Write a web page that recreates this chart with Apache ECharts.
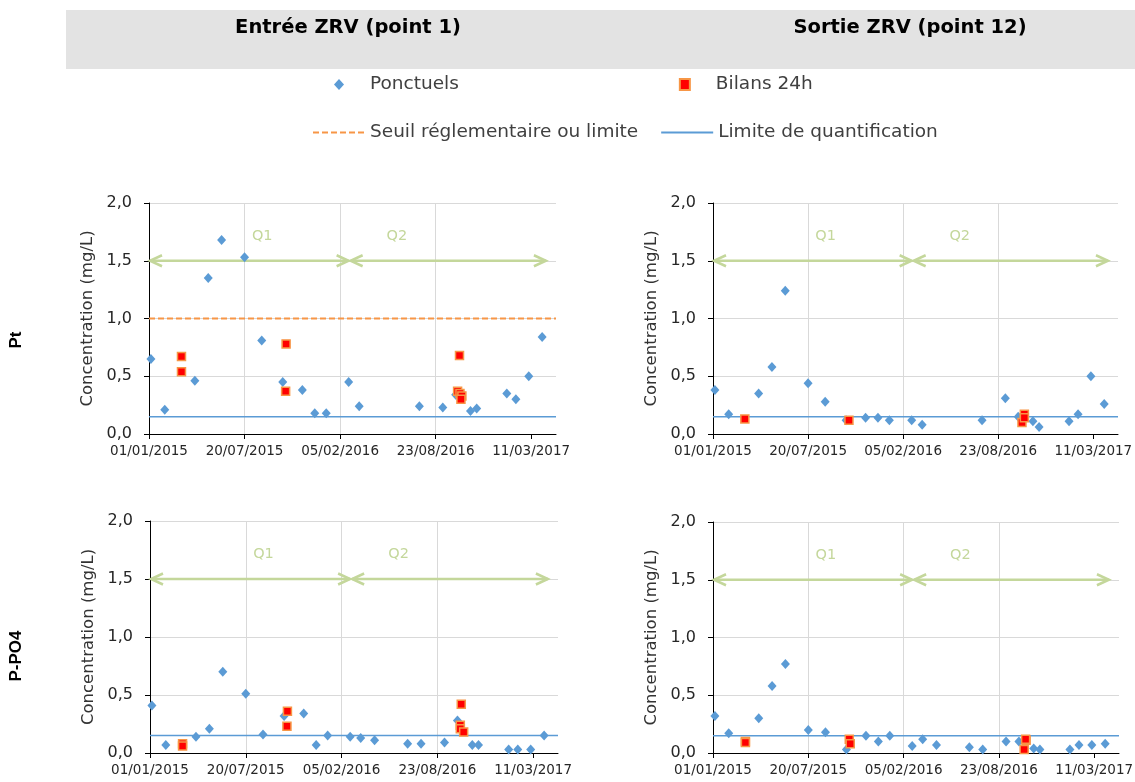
<!DOCTYPE html>
<html>
<head>
<meta charset="utf-8">
<script src="https://cdn.jsdelivr.net/npm/echarts@6/dist/echarts.min.js"></script>
<style>
  html, body { margin: 0; padding: 0; background: #ffffff; }
  #chart { width: 1135px; height: 782px; }
</style>
</head>
<body>
<div id="chart"></div>
<script>
// ---- Sampling dates (grab samples) ----
const datesPt = ['2015-01-05','2015-02-03','2015-04-07','2015-05-05','2015-06-02','2015-07-20',
  '2015-08-25','2015-10-08','2015-11-18','2015-12-14','2016-01-07','2016-02-23','2016-03-16',
  '2016-07-20','2016-09-07','2016-10-04','2016-11-04','2016-11-17','2017-01-19','2017-02-07',
  '2017-03-06','2017-04-03'];
const datesPO4 = ['2015-01-05','2015-02-03','2015-04-07','2015-05-05','2015-06-02','2015-07-20',
  '2015-08-25','2015-10-08','2015-11-18','2015-12-14','2016-01-07','2016-02-23','2016-03-16',
  '2016-04-14','2016-06-22','2016-07-20','2016-09-07','2016-10-04','2016-11-04','2016-11-17',
  '2017-01-19','2017-02-07','2017-03-06','2017-04-03'];

// ---- Grab-sample concentrations (mg/L) ----
const ptEntree  = [0.65,0.21,0.46,1.35,1.68,1.53,0.81,0.45,0.38,0.18,0.18,0.45,0.24,0.24,0.23,0.34,0.20,0.22,0.35,0.30,0.50,0.84];
const ptSortie  = [0.38,0.17,0.35,0.58,1.24,0.44,0.28,0.12,0.14,0.14,0.12,0.12,0.08,0.12,0.31,0.15,0.11,0.06,0.11,0.17,0.50,0.26];
const po4Entree = [0.41,0.07,0.14,0.21,0.70,0.51,0.16,0.32,0.34,0.07,0.15,0.14,0.13,0.11,0.08,0.08,0.09,0.28,0.07,0.07,0.03,0.03,0.03,0.15];
const po4Sortie = [0.32,0.17,0.30,0.58,0.77,0.20,0.18,0.03,0.15,0.10,0.15,0.06,0.12,0.07,0.05,0.03,0.10,0.10,0.04,0.03,0.03,0.07,0.07,0.08];

// ---- 24 h balance campaigns ----
const bilanDatesPtEntree  = ['2015-03-10','2015-03-10','2015-10-15','2015-10-14','2016-10-12','2016-10-08','2016-10-13','2016-10-17','2016-10-15'];
const bilanPtEntree       = [0.67,0.54,0.78,0.37,0.68,0.37,0.35,0.33,0.30];
const bilanDatesPtSortie  = ['2015-03-09','2015-10-14','2016-10-12','2016-10-17','2016-10-17'];
const bilanPtSortie       = [0.13,0.12,0.10,0.17,0.14];
const bilanDatesPO4Entree = ['2015-03-10','2015-03-10','2015-10-15','2015-10-14','2016-10-12','2016-10-10','2016-10-10','2016-10-17'];
const bilanPO4Entree      = [0.08,0.06,0.36,0.23,0.42,0.24,0.21,0.18];
const bilanDatesPO4Sortie = ['2015-03-10','2015-03-10','2015-10-14','2015-10-16','2016-10-15','2016-10-19','2016-10-18'];
const bilanPO4Sortie      = [0.10,0.09,0.12,0.08,0.03,0.11,0.12];

// ---- Reference levels ----
const seuilPt = 1.0;          // regulatory threshold for total phosphorus
const limiteQuantif = 0.15;   // quantification limit

// ---- Flow periods ----
const qLabels = ['Q1', 'Q2'];
const qStart = ['2015-01-01', '2016-02-25'];
const qEnd = ['2016-02-25', '2017-04-13'];
const qLevel = 1.5;
const qLabelDates = ['2015-08-26', '2016-06-03'];
const qLabelLevel = 1.71;

// ---- Axis labels ----
const columnTitles = ['Entrée ZRV (point 1)', 'Sortie ZRV (point 12)'];
const rowTitles = ['Pt', 'P-PO4'];
const tickLabels = ['01/01/2015', '20/07/2015', '05/02/2016', '23/08/2016', '11/03/2017'];
const tickDays = [0, 200, 400, 600, 800];
const X_MAX = 852;

// days elapsed since 01/01/2015
const DAY0 = Date.UTC(2015, 0, 1);
const toDay = s => (Date.parse(s + 'T00:00:00Z') - DAY0) / 86400000;
const pairs = (dates, vals) => dates.map((d, i) => [toDay(d), vals[i]]);

const FONT = 'DejaVu Sans';
const BLUE = '#5B9BD5';
const ORANGE = '#F79646';
const QCOLOR = '#C4D79B';

const grids = [
  { left: 149, top: 203, width: 407, height: 231 },
  { left: 713, top: 203, width: 405, height: 231 },
  { left: 150, top: 521, width: 408, height: 232 },
  { left: 713, top: 522, width: 406, height: 231 }
];

const panels = [
  { ponct: pairs(datesPt, ptEntree),   bilan: pairs(bilanDatesPtEntree, bilanPtEntree),   seuil: seuilPt },
  { ponct: pairs(datesPt, ptSortie),   bilan: pairs(bilanDatesPtSortie, bilanPtSortie) },
  { ponct: pairs(datesPO4, po4Entree), bilan: pairs(bilanDatesPO4Entree, bilanPO4Entree) },
  { ponct: pairs(datesPO4, po4Sortie), bilan: pairs(bilanDatesPO4Sortie, bilanPO4Sortie) }
];

const qData = qLabels.map((l, i) => [toDay(qStart[i]), toDay(qEnd[i]), qLevel, toDay(qLabelDates[i]), qLabelLevel, i]);

const xAxes = grids.map((g, i) => ({
  type: 'value', gridIndex: i, min: 0, max: X_MAX, interval: 200,
  axisLine: { show: true, onZero: false, lineStyle: { color: '#000', width: 1 } },
  axisTick: { show: true, length: 5, customValues: tickDays, lineStyle: { color: '#000' } },
  axisLabel: {
    customValues: tickDays, margin: 10,
    formatter: v => tickLabels[tickDays.indexOf(v)] || '',
    fontFamily: FONT, fontSize: 13.5, color: '#262626'
  },
  splitLine: { show: true, showMinLine: false, showMaxLine: false, lineStyle: { color: '#d9d9d9', width: 1 } }
}));

const yAxes = grids.map((g, i) => ({
  type: 'value', gridIndex: i, min: 0, max: 2, interval: 0.5,
  name: 'Concentration (mg/L)', nameLocation: 'middle', nameGap: 53,
  nameTextStyle: { fontFamily: FONT, fontSize: 16.5, color: '#333' },
  axisLine: { show: true, lineStyle: { color: '#000', width: 1 } },
  axisTick: { show: true, length: 5, lineStyle: { color: '#000' } },
  axisLabel: { margin: 17, formatter: v => v.toFixed(1).replace('.', ','), fontFamily: FONT, fontSize: 16, color: '#262626' },
  splitLine: { show: true, lineStyle: { color: '#d9d9d9', width: 1 } }
}));

const series = [];
panels.forEach((p, i) => {
  series.push({
    type: 'custom', name: 'périodes', xAxisIndex: i, yAxisIndex: i, z: 1, silent: true, clip: false,
    encode: { x: [0, 1, 3], y: [2, 4] },
    data: qData,
    renderItem: (params, api) => {
      const s = api.coord([api.value(0), api.value(2)]);
      const e = api.coord([api.value(1), api.value(2)]);
      const t = api.coord([api.value(3), api.value(4)]);
      const w = 13, h = 5.5;
      const st = { stroke: QCOLOR, lineWidth: 2.5, fill: null };
      return {
        type: 'group',
        children: [
          { type: 'line', shape: { x1: s[0] + 1, y1: s[1], x2: e[0] - 1, y2: e[1] }, style: st },
          { type: 'polyline', shape: { points: [[s[0] + w, s[1] - h], [s[0] + 1, s[1]], [s[0] + w, s[1] + h]] }, style: st },
          { type: 'polyline', shape: { points: [[e[0] - w, e[1] - h], [e[0] - 1, e[1]], [e[0] - w, e[1] + h]] }, style: st },
          { type: 'text', x: t[0], y: t[1], style: { text: qLabels[api.value(5)], fill: QCOLOR, font: '14.5px "' + FONT + '"', align: 'center', verticalAlign: 'middle' } }
        ]
      };
    }
  });
  series.push({
    type: 'line', name: 'Limite de quantification', xAxisIndex: i, yAxisIndex: i, z: 2,
    data: [[0, limiteQuantif], [X_MAX, limiteQuantif]],
    symbol: 'none', silent: true, lineStyle: { color: BLUE, width: 1.5 }, itemStyle: { color: BLUE, opacity: 0 }
  });
  if (p.seuil !== undefined) {
    series.push({
      type: 'line', name: 'Seuil réglementaire ou limite', xAxisIndex: i, yAxisIndex: i, z: 2,
      data: [[0, p.seuil], [X_MAX, p.seuil]],
      symbol: 'none', silent: true, lineStyle: { color: ORANGE, width: 2, type: [6, 3] }, itemStyle: { color: ORANGE, opacity: 0 }
    });
  }
  series.push({
    type: 'scatter', name: 'Ponctuels', xAxisIndex: i, yAxisIndex: i, z: 3,
    data: p.ponct, symbol: 'diamond', symbolSize: [9, 10],
    itemStyle: { color: BLUE, opacity: 1 }
  });
  series.push({
    type: 'scatter', name: 'Bilans 24h', xAxisIndex: i, yAxisIndex: i, z: 4,
    data: p.bilan, symbol: 'rect', symbolSize: 8,
    itemStyle: { color: '#FF0000', borderColor: ORANGE, borderWidth: 1.5, opacity: 1 }
  });
});

const legendText = { fontFamily: FONT, fontSize: 18.5, color: '#404040' };

const option = {
  backgroundColor: '#ffffff',
  animation: false,
  grid: grids.map(g => Object.assign({ containLabel: false, outerBoundsMode: 'none' }, g)),
  xAxis: xAxes,
  yAxis: yAxes,
  legend: [
    {
      data: ['Ponctuels', 'Bilans 24h'], left: 334, top: 75, padding: 0,
      itemWidth: 10, itemHeight: 11, itemGap: 220, selectedMode: false,
      textStyle: Object.assign({ padding: [0, 0, 0, 21] }, legendText)
    },
    {
      data: ['Seuil réglementaire ou limite', 'Limite de quantification'], left: 312, top: 123, padding: 0,
      itemWidth: 52, itemHeight: 14, itemGap: 22, selectedMode: false,
      textStyle: legendText
    }
  ],
  graphic: [
    { type: 'rect', left: 66, top: 10, shape: { width: 1069, height: 59 }, style: { fill: '#e3e3e3' }, silent: true, z: -1 },
    { type: 'text', x: 348, y: 28, style: { text: columnTitles[0], font: 'bold 19.5px "DejaVu Sans"', fill: '#000', align: 'center', verticalAlign: 'middle' } },
    { type: 'text', x: 910, y: 28, style: { text: columnTitles[1], font: 'bold 19.5px "DejaVu Sans"', fill: '#000', align: 'center', verticalAlign: 'middle' } },
    { type: 'text', x: 16, y: 340, rotation: Math.PI / 2, style: { text: rowTitles[0], font: 'bold 17px "Liberation Sans"', fill: '#000', align: 'center', verticalAlign: 'middle' } },
    { type: 'text', x: 16, y: 656, rotation: Math.PI / 2, style: { text: rowTitles[1], font: 'bold 17px "Liberation Sans"', fill: '#000', align: 'center', verticalAlign: 'middle' } }
  ],
  series: series
};

const chart = echarts.init(document.getElementById('chart'), null, { renderer: 'canvas' });
chart.setOption(option);
</script>
</body>
</html>
